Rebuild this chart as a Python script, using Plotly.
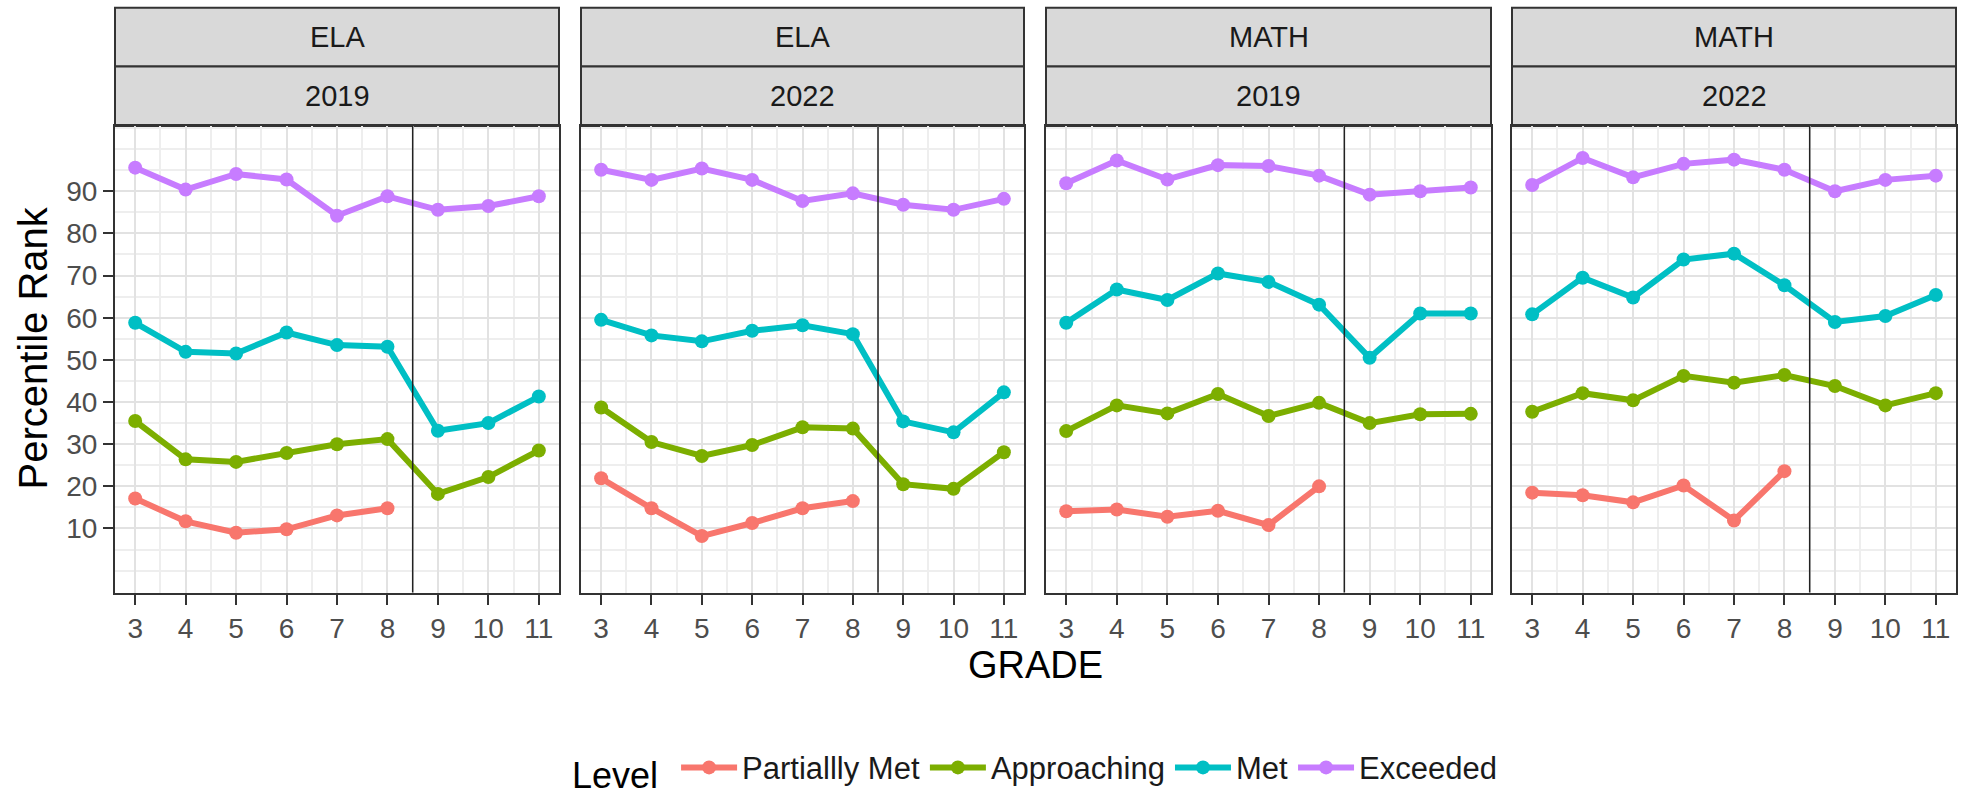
import plotly.graph_objects as go

# Grades shown on the x axis
grades = [3, 4, 5, 6, 7, 8, 9, 10, 11]
grades_partial = [3, 4, 5, 6, 7, 8]

# Facet labels
subjects = ["ELA", "ELA", "MATH", "MATH"]
years = ["2019", "2022", "2019", "2022"]

levels = ["Partiallly Met", "Approaching", "Met", "Exceeded"]
level_colors = ["#F8766D", "#7CAE00", "#00BFC4", "#C77CFF"]

# Percentile rank by level, one list per facet
ela_2019_partially_met = [17.1, 11.7, 9.0, 9.8, 13.1, 14.8]
ela_2019_approaching = [35.5, 26.4, 25.8, 27.9, 30.0, 31.2, 18.2, 22.2, 28.5]
ela_2019_met = [58.8, 51.9, 51.5, 56.5, 53.5, 53.1, 33.2, 35.0, 41.3]
ela_2019_exceeded = [95.6, 90.4, 94.1, 92.8, 84.2, 88.8, 85.6, 86.5, 88.8]

ela_2022_partially_met = [21.9, 14.8, 8.2, 11.3, 14.8, 16.5]
ela_2022_approaching = [38.7, 30.5, 27.2, 29.8, 34.0, 33.7, 20.5, 19.4, 28.1]
ela_2022_met = [59.5, 55.8, 54.4, 56.9, 58.2, 56.1, 35.4, 32.8, 42.3]
ela_2022_exceeded = [95.1, 92.7, 95.4, 92.7, 87.7, 89.5, 86.8, 85.6, 88.2]

math_2019_partially_met = [14.1, 14.5, 12.8, 14.2, 10.8, 20.0]
math_2019_approaching = [33.1, 39.2, 37.3, 41.9, 36.7, 39.8, 35.0, 37.1, 37.2]
math_2019_met = [58.8, 66.7, 64.2, 70.5, 68.5, 63.1, 50.5, 61.0, 61.0]
math_2019_exceeded = [91.9, 97.3, 92.8, 96.2, 96.0, 93.7, 89.2, 90.0, 90.9]

math_2022_partially_met = [18.5, 17.9, 16.2, 20.2, 11.9, 23.6]
math_2022_approaching = [37.7, 42.1, 40.4, 46.2, 44.6, 46.4, 43.8, 39.2, 42.1]
math_2022_met = [60.8, 69.5, 64.8, 73.8, 75.2, 67.7, 59.0, 60.4, 65.4]
math_2022_exceeded = [91.5, 97.9, 93.3, 96.5, 97.5, 95.1, 90.0, 92.7, 93.7]

panels = [
    [ela_2019_partially_met, ela_2019_approaching, ela_2019_met, ela_2019_exceeded],
    [ela_2022_partially_met, ela_2022_approaching, ela_2022_met, ela_2022_exceeded],
    [math_2019_partially_met, math_2019_approaching, math_2019_met, math_2019_exceeded],
    [math_2022_partially_met, math_2022_approaching, math_2022_met, math_2022_exceeded],
]

y_ticks = [10, 20, 30, 40, 50, 60, 70, 80, 90]

W, H = 1967, 798
panel_px = [(115, 559), (581, 1024), (1046, 1491), (1512, 1956)]
plot_top, plot_bottom = 129, 607
strip_top, strip_mid = 8, 68

def px_x(v):
    return v / W

def px_y(v):
    return 1 - v / H

fig = go.Figure()
FONT = "Liberation Sans, Arial, sans-serif"
BORDER = "#333333"
GRID = "#E2E2E2"
GRID_MINOR = "#EEEEEE"

for p, series in enumerate(panels):
    ax = "" if p == 0 else str(p + 1)
    for li, vals in enumerate(series):
        xs = grades_partial if len(vals) == 6 else grades
        fig.add_trace(go.Scatter(
            x=xs, y=vals, mode="lines+markers",
            name=levels[li], legendgroup=levels[li], showlegend=(p == 0),
            line=dict(color=level_colors[li], width=6),
            marker=dict(color=level_colors[li], size=14),
            xaxis="x" + ax, yaxis="y" + ax,
        ))

    x0, x1 = panel_px[p]
    xaxis = dict(
        domain=[px_x(x0), px_x(x1)], range=[2.6, 11.4],
        tickvals=grades, ticks="outside", ticklen=10, tickwidth=2, tickcolor=BORDER,
        tickfont=dict(family=FONT, size=28, color="#4D4D4D"),
        showgrid=True, gridcolor=GRID, gridwidth=2,
        minor=dict(dtick=0.5, tick0=3, showgrid=True, gridcolor=GRID_MINOR, gridwidth=1.5, ticks=""),
        showline=True, linecolor=BORDER, linewidth=2, mirror=True,
        zeroline=False, anchor="y" + ax, fixedrange=True,
    )
    yaxis = dict(
        domain=[px_y(plot_bottom), px_y(plot_top)], range=[-5.2, 105.5],
        tickvals=y_ticks, ticks="outside" if p == 0 else "", ticklen=10, tickwidth=2,
        tickcolor=BORDER, showticklabels=(p == 0),
        tickfont=dict(family=FONT, size=28, color="#4D4D4D"),
        showgrid=True, gridcolor=GRID, gridwidth=2,
        minor=dict(dtick=5, tick0=0, showgrid=True, gridcolor=GRID_MINOR, gridwidth=1.5, ticks=""),
        showline=True, linecolor=BORDER, linewidth=2, mirror=True,
        zeroline=False, anchor="x" + ax, fixedrange=True,
    )
    fig.layout["xaxis" + ax] = xaxis
    fig.layout["yaxis" + ax] = yaxis

    # grade 8 / grade 9 separator
    fig.add_shape(type="line", xref="x" + ax, yref="y" + ax + " domain",
                  x0=8.5, x1=8.5, y0=0, y1=1, line=dict(color="#222222", width=1.5))

    # facet strips
    for (t, b, label) in [(strip_top, strip_mid, subjects[p]), (strip_mid, plot_top, years[p])]:
        fig.add_shape(type="rect", xref="paper", yref="paper",
                      x0=px_x(x0), x1=px_x(x1), y0=px_y(b), y1=px_y(t),
                      fillcolor="#D9D9D9", line=dict(color=BORDER, width=2), layer="below")
        fig.add_annotation(xref="paper", yref="paper", x=px_x((x0 + x1) / 2), y=px_y((t + b) / 2),
                           text=label, showarrow=False, xanchor="center", yanchor="middle",
                           font=dict(family=FONT, size=29, color="#1A1A1A"))

fig.add_annotation(xref="paper", yref="paper", x=px_x(1035), y=px_y(681),
                   text="GRADE", showarrow=False, xanchor="center", yanchor="middle",
                   font=dict(family=FONT, size=38, color="#000000"))
fig.add_annotation(xref="paper", yref="paper", x=px_x(32), y=px_y(357),
                   text="Percentile Rank", showarrow=False, textangle=-90,
                   xanchor="center", yanchor="middle",
                   font=dict(family=FONT, size=40, color="#000000"))

fig.update_layout(
    width=W, height=H, margin=dict(l=0, r=0, t=0, b=0),
    paper_bgcolor="white", plot_bgcolor="white",
    legend=dict(orientation="h", x=px_x(1036), xanchor="center", y=px_y(788), yanchor="middle",
                title=dict(text="Level ", font=dict(family=FONT, size=36, color="#000000"), side="left"),
                font=dict(family=FONT, size=31, color="#1A1A1A"), itemwidth=56),
)

fig.write_html("out.html")
